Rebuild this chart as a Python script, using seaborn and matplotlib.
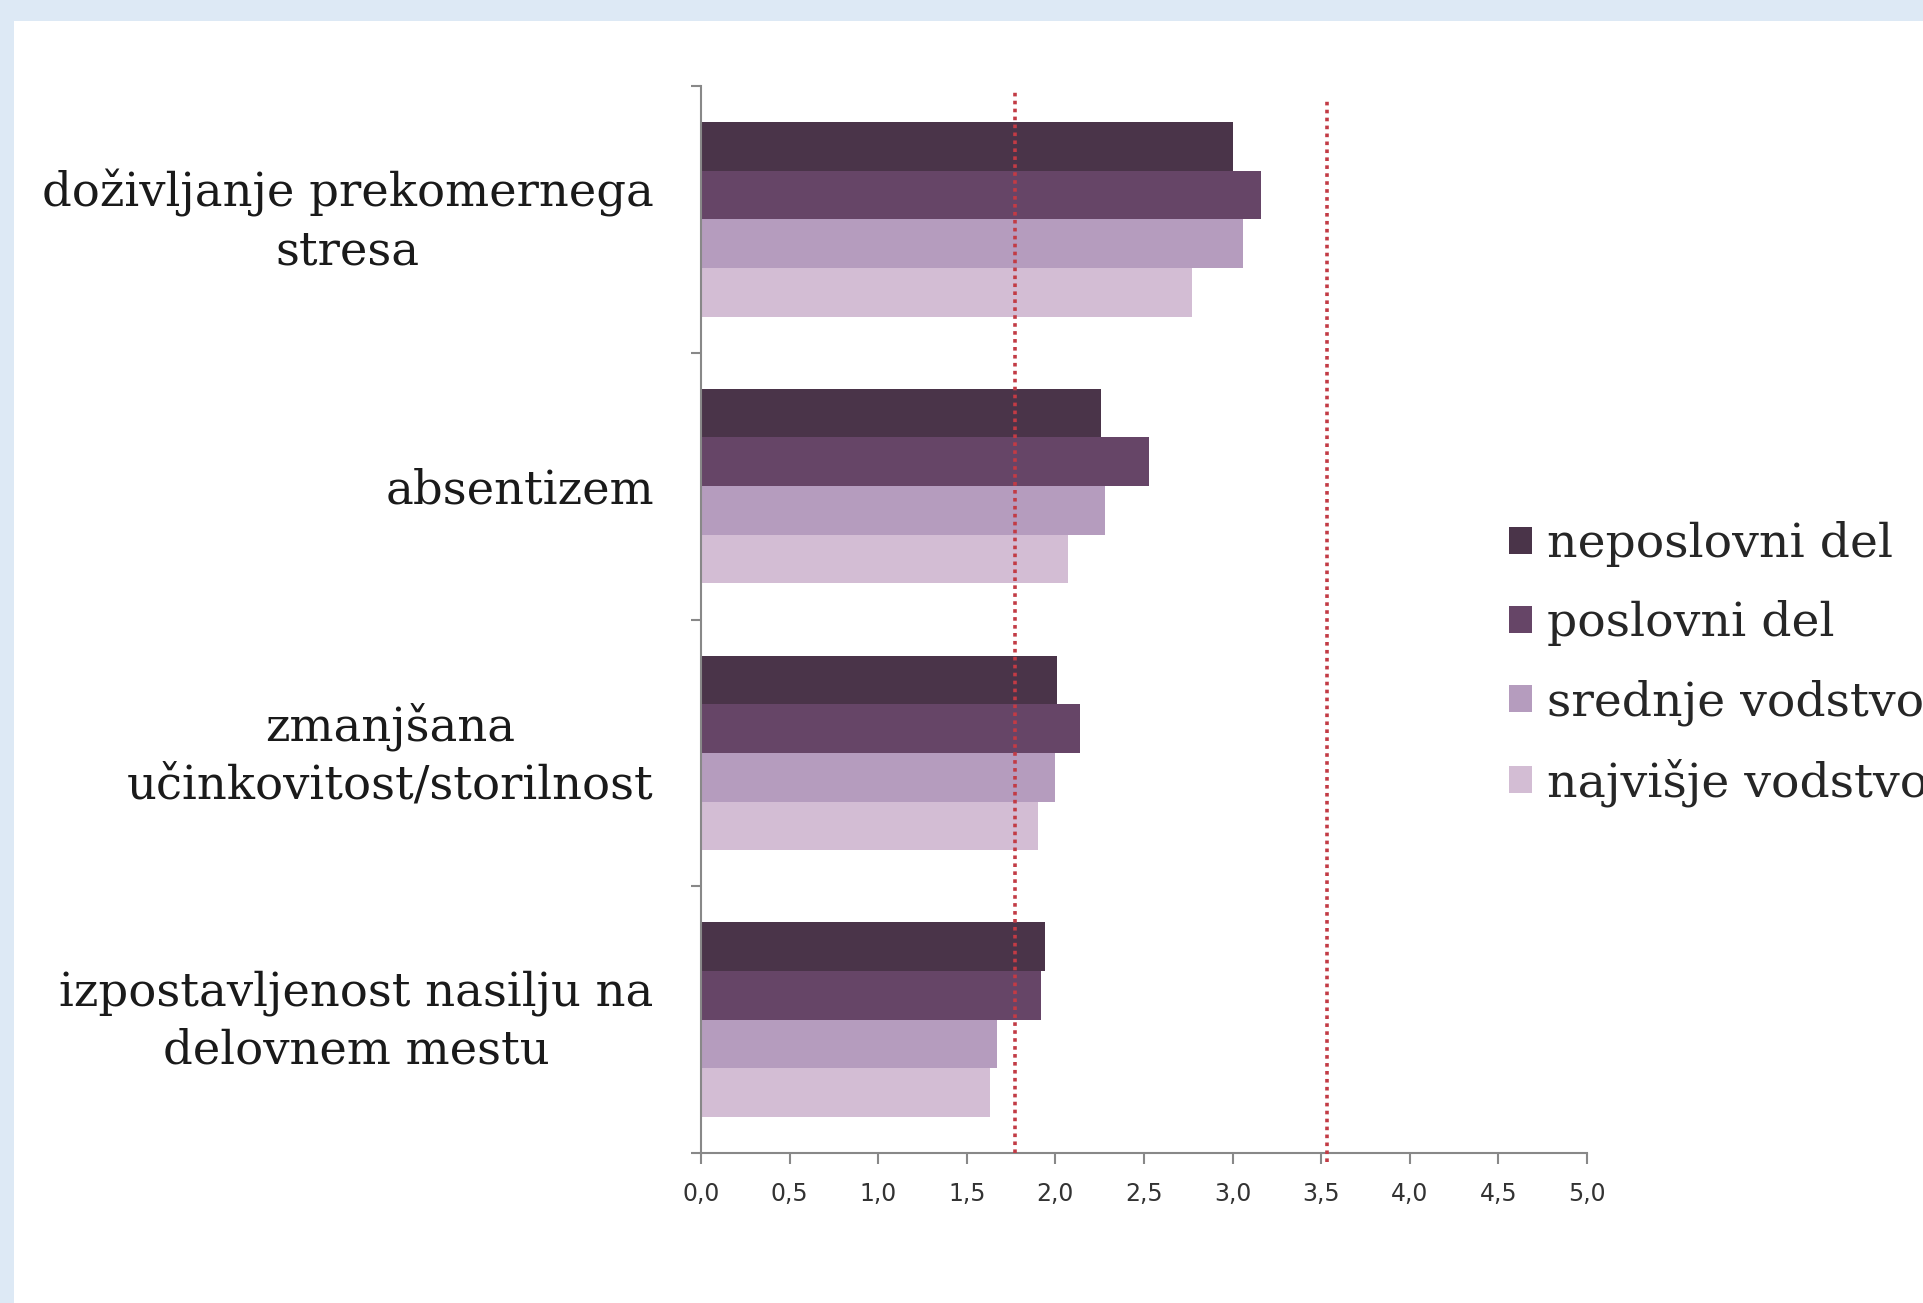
import matplotlib
matplotlib.use("Agg")
import matplotlib.pyplot as plt
from matplotlib.patches import Rectangle
from matplotlib.transforms import ScaledTranslation
import seaborn as sns
import pandas as pd

# --- podatki ---
categories = ["doživljanje prekomernega\nstresa",
              "absentizem",
              "zmanjšana\nučinkovitost/storilnost",
              "izpostavljenost nasilju na\ndelovnem mestu"]
groups = ["neposlovni del", "poslovni del", "srednje vodstvo", "najvišje vodstvo"]
neposlovni = [3.00, 2.26, 2.01, 1.94]
poslovni = [3.16, 2.53, 2.14, 1.92]
srednje = [3.06, 2.28, 2.00, 1.67]
najvisje = [2.77, 2.07, 1.90, 1.63]
ref_lines = [1.77, 3.53]
x_ticks = [0.0, 0.5, 1.0, 1.5, 2.0, 2.5, 3.0, 3.5, 4.0, 4.5, 5.0]
x_labels = ["0,0", "0,5", "1,0", "1,5", "2,0", "2,5", "3,0", "3,5", "4,0", "4,5", "5,0"]
colors = ["#4a3449", "#664567", "#b59cbe", "#d3bdd4"]

df = pd.DataFrame({
    "kategorija": categories * 4,
    "skupina": [g for g in groups for _ in categories],
    "vrednost": neposlovni + poslovni + srednje + najvisje,
})

sns.set_theme(style="white")
plt.rcParams["font.family"] = ["DejaVu Serif"]

fig = plt.figure(figsize=(19.24, 13.03), dpi=100, facecolor="#dde9f5")
# bela plošča, svetlo modri rob zgoraj in levo
bg = Rectangle((14 / 1924, 0), 1, 1 - 21 / 1303, transform=fig.transFigure,
               facecolor="white", edgecolor="none", zorder=-10)
fig.add_artist(bg)

ax = fig.add_axes([701 / 1924, 1 - 1153 / 1303, 886 / 1924, 1067 / 1303])
ax.set_facecolor("none")

sns.barplot(data=df, x="vrednost", y="kategorija", hue="skupina", order=categories,
            hue_order=groups, palette=colors, orient="h", width=0.73, saturation=1,
            edgecolor="none", linewidth=0, ax=ax, legend=False)

# rdeči pikčasti črti
ax.axvline(ref_lines[0], ymin=0, ymax=0.994, color="#c23b45", linestyle=(0, (1, 1.2)),
           linewidth=2.6, zorder=5)
ax.axvline(ref_lines[1], ymin=-0.008, ymax=0.988, color="#c23b45", linestyle=(0, (1, 1.2)),
           linewidth=2.6, zorder=5, clip_on=False)

ax.set_xlim(0, 5)
ax.set_ylim(3.5, -0.5)
ax.set_xticks(x_ticks)
ax.set_xticklabels(x_labels, fontfamily="DejaVu Sans", fontsize=17, color="#333333")
ax.set_yticks(range(len(categories)))
ax.set_yticklabels(categories, fontsize=33.5, color="#1a1a1a")
ax.set_yticks([-0.5, 0.5, 1.5, 2.5, 3.5], minor=True)
ax.tick_params(axis="y", which="major", length=0, pad=34)
ax.tick_params(axis="y", which="minor", length=7, color="#888888", width=1.5, left=True)
ax.tick_params(axis="x", which="major", length=8, color="#888888", width=1.5, bottom=True, pad=13)
ax.set_xlabel("")
ax.set_ylabel("")

# dvovrstične oznake malo višje
shift = ScaledTranslation(0, 0.085, fig.dpi_scale_trans)
for t in ax.get_yticklabels():
    t.set_multialignment("center")
    t.set_linespacing(1.35)
    if "\n" in t.get_text():
        t.set_transform(t.get_transform() + shift)

for s in ["top", "right"]:
    ax.spines[s].set_visible(False)
for s in ["left", "bottom"]:
    ax.spines[s].set_color("#888888")
    ax.spines[s].set_linewidth(1.5)

handles = [Rectangle((0, 0), 1, 1, facecolor=c, edgecolor="none") for c in colors]
fig.legend(handles, groups, loc="upper left", bbox_to_anchor=(1490 / 1924, 1 - 502 / 1303),
           frameon=False, fontsize=34, handlelength=0.5, handleheight=0.5,
           handletextpad=0.3, labelspacing=0.7, borderaxespad=0)

fig.savefig("out.png", dpi=100, facecolor=fig.get_facecolor())
